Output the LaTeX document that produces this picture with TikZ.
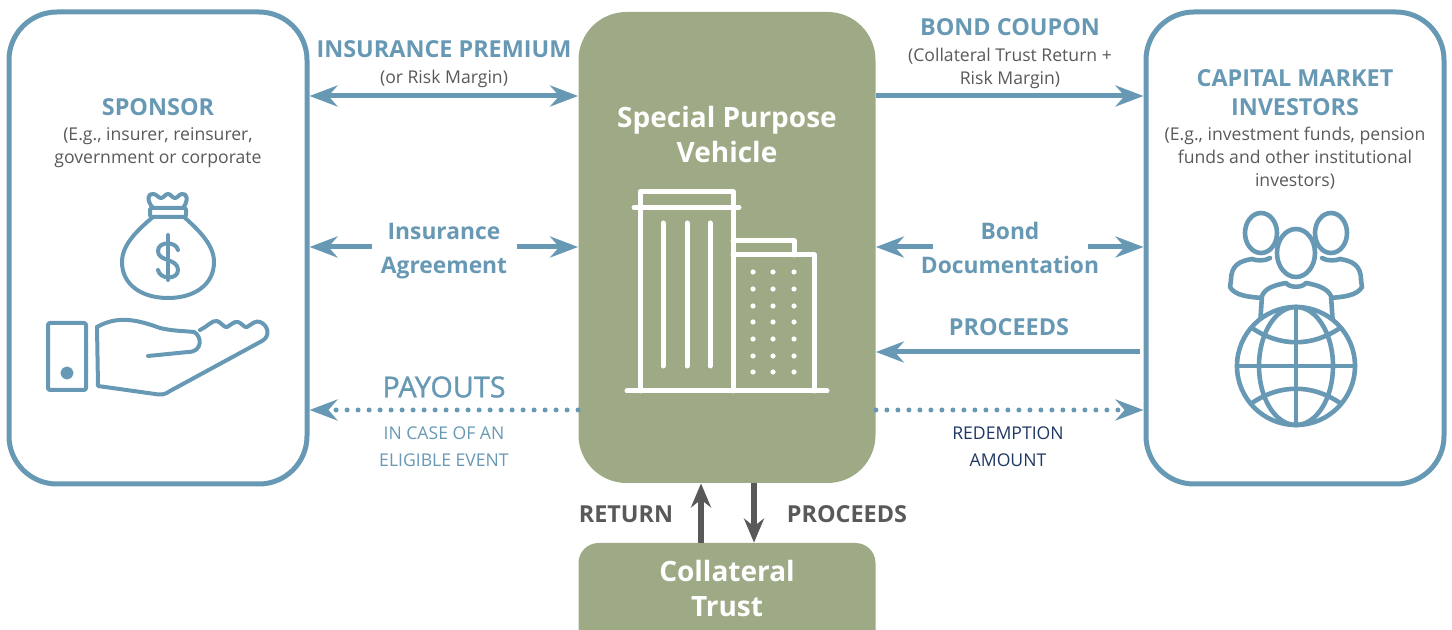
\documentclass[tikz,border=0pt]{standalone}
\usepackage{fontspec}
\setmainfont{Open Sans}
\newfontfamily\semifont[FakeBold=1.2]{Open Sans}
\usetikzlibrary{arrows.meta,positioning}

\definecolor{flowblue}{HTML}{6899B4}
\definecolor{spvgreen}{HTML}{9DAA85}
\definecolor{notegray}{HTML}{595959}
\definecolor{navytext}{HTML}{1F3864}

\tikzset{
  sidebox/.style={draw=flowblue,line width=2.5pt,rounded corners=24pt,minimum width=149pt,minimum height=236pt,inner sep=0pt},
  spvbox/.style={fill=spvgreen,rounded corners=24pt,minimum width=148.5pt,minimum height=235.5pt,inner sep=0pt},
  flow/.style={color=flowblue,line width=2.5pt,-{Stealth[length=14pt,width=10.5pt]}},
  flowboth/.style={flow,{Stealth[length=14pt,width=10.5pt]}-{Stealth[length=14pt,width=10.5pt]}},
  dotflow/.style={flow,line cap=round,dash pattern=on 0pt off 5.5pt},
  darkflow/.style={color=notegray,line width=3pt,-{Stealth[length=12pt,width=10pt]}},
  bluehead/.style={color=flowblue,font=\fontsize{11.7}{14.5}\selectfont\bfseries,align=center,inner sep=0pt},
  blueterm/.style={color=flowblue,font=\fontsize{11.4}{17}\selectfont\bfseries,align=center,inner sep=0pt},
  graynote/.style={color=notegray,font=\fontsize{8.8}{11.5}\selectfont,align=center,inner sep=0pt},
  capsnote/.style={font=\fontsize{8.8}{13.5}\selectfont,align=center,inner sep=0pt},
  whitehead/.style={color=white,font=\fontsize{14}{17.5}\selectfont\bfseries,align=center,inner sep=0pt},
  darkhead/.style={color=notegray,font=\fontsize{11.7}{14}\selectfont\bfseries,inner sep=0pt},
  icon/.style={color=flowblue,line width=2pt,line cap=round,line join=round},
  peopleicon/.style={icon,line width=2.3pt},
  whiteicon/.style={color=white,line width=2.5pt,line cap=round,line join=round}
}

\begin{document}
\begin{tikzpicture}[x=0.5pt,y=-0.5pt]
  \useasboundingbox (0,0) rectangle (1452,630);
  \clip (0,0) rectangle (1452,630);

  % boxes
  \node [sidebox] (sponsor) at (158,248) {};
  \node [sidebox] (investors) at (1295,248) {};
  \node [spvbox] (spv) at (727,247.5) {};
  \node [spvbox,rounded corners=10pt,minimum height=60pt] (trust) at (727,603) {};

  % labels
  \node [bluehead] (sponsorname) at (158,107) {SPONSOR};
  \node [graynote] (sponsornote) at (158,148) {(E.g., insurer, reinsurer,\\government or corporate};
  \node [bluehead] (investorname) at (1295,93) {CAPITAL MARKET\\INVESTORS};
  \node [graynote] (investornote) at (1295,158) {(E.g., investment funds, pension\\funds and other institutional\\investors)};
  \node [whitehead] (spvname) at (727,135) {Special Purpose\\Vehicle};
  \node [whitehead] (trustname) at (727,589) {Collateral\\Trust};

  \node [bluehead] (premium) at (444,49) {INSURANCE PREMIUM};
  \node [graynote] (premiumnote) at (444,79) {(or Risk Margin)};
  \node [bluehead] (coupon) at (1010,27) {BOND COUPON};
  \node [graynote] (couponnote) at (1010,68) {(Collateral Trust Return +\\Risk Margin)};
  \node [blueterm,inner xsep=4.5pt] (agreement) at (444,251) {Insurance\\Agreement};
  \node [blueterm] (bonddoc) at (1010,248) {Bond\\Documentation};
  \node [bluehead] (proceedsin) at (1009,327) {PROCEEDS};
  \node [bluehead,font=\fontsize{14.4}{16}\selectfont\semifont] (payouts) at (444,387) {PAYOUTS};
  \node [capsnote,color=flowblue] (payoutsnote) at (444,447) {IN CASE OF AN\\ELIGIBLE EVENT};
  \node [capsnote,color=navytext] (redemption) at (1008,447) {REDEMPTION\\AMOUNT};
  \node [darkhead] (returnlbl) at (626,514) {RETURN};
  \node [darkhead] (proceedsout) at (847,514) {PROCEEDS};

  % connectors
  \coordinate (rowa) at (0,96);
  \coordinate (rowb) at (0,247);
  \coordinate (rowc) at (0,352);
  \coordinate (rowd) at (0,410);
  \coordinate (bondleft) at (933,247);
  \coordinate (bondright) at (1088,247);
  \coordinate (returnx) at (701,0);
  \coordinate (proceedsx) at (754,0);

  \draw [flowboth] (sponsor.east |- rowa) -- (spv.west |- rowa);
  \draw [flow] (spv.east |- rowa) -- (investors.west |- rowa);
  \draw [flow] (agreement.west |- rowb) -- (sponsor.east |- rowb);
  \draw [flow] (agreement.east |- rowb) -- (spv.west |- rowb);
  \draw [flow] (bondleft) -- (spv.east |- rowb);
  \draw [flow] (bondright) -- (investors.west |- rowb);
  \draw [flow,shorten <=2pt] (investors.west |- rowc) -- (spv.east |- rowc);
  \draw [dotflow] (spv.west |- rowd) -- (sponsor.east |- rowd);
  \draw [dotflow] (spv.east |- rowd) -- (investors.west |- rowd);
  \draw [darkflow] (trust.north -| returnx) -- (spv.south -| returnx);
  \draw [darkflow] (spv.south -| proceedsx) -- (trust.north -| proceedsx);

  % money bag and hand
  \draw [icon,fill=flowblue] (67,373) circle (4.5);
  \draw [icon,rounded corners=1pt] (48,323) rectangle (86,390);
  \draw [icon,rounded corners=1pt] (150,208) rectangle (186,217);
  \draw [icon] (153,208) .. controls (146,200) and (148,193) .. (153,194)
     .. controls (157,194) and (158,198) .. (161,198)
     .. controls (164,198) and (165,194) .. (168,194)
     .. controls (171,194) and (172,198) .. (175,198)
     .. controls (178,198) and (179,194) .. (182,194)
     .. controls (187,193) and (189,200) .. (183,208);
  \draw [icon] (153,217) .. controls (135,232) and (122,246) .. (122,262)
     .. controls (122,285) and (142,298) .. (168,298)
     .. controls (194,298) and (214,285) .. (214,262)
     .. controls (214,246) and (201,232) .. (184,217);
  \draw [icon] (178,250) .. controls (176,241) and (158,241) .. (158,251)
     .. controls (158,262) and (178,258) .. (178,270)
     .. controls (178,280) and (160,280) .. (158,270);
  \draw [icon] (168,235) -- (168,280);
  \draw [icon] (97,327) .. controls (118,315) and (138,320) .. (160,328)
     .. controls (172,331) and (185,331) .. (194,332)
     .. controls (202,336) and (203,352) .. (188,352)
     -- (148,356);
  \draw [icon] (200,330) .. controls (207,327) and (212,320) .. (217,321)
     .. controls (221,322) and (224,328) .. (227,327)
     .. controls (231,325) and (234,321) .. (238,322)
     .. controls (242,323) and (244,328) .. (247,327)
     .. controls (252,324) and (256,320) .. (260,322)
     .. controls (268,325) and (271,336) .. (262,341)
     -- (170,391) .. controls (165,395) and (160,395) .. (155,394)
     -- (98,386) -- (97,327);

  % building
  \draw [whiteicon] (627,391) -- (827,391);
  \draw [whiteicon] (634,207.5) -- (739,207.5);
  \draw [whiteicon] (640,391) -- (640,192) -- (733,192) -- (733,391);
  \foreach \stripex in {663,687,710}
    \draw [whiteicon] (\stripex,223) -- (\stripex,366);
  \draw [whiteicon] (733,241) -- (794,241) -- (794,255);
  \draw [whiteicon] (733,255) -- (814,255) -- (814,391);
  \foreach \dotx in {753,773,794}
    \foreach \doty in {272,289,306,322,339,356,372}
      \fill [white] (\dotx,\doty) circle (2.6);

  % people and globe
  \draw [peopleicon,fill=white] (1261,233) ellipse (16 and 20);
  \draw [peopleicon,fill=white] (1331,233) ellipse (16 and 20);
  \draw [peopleicon] (1252,259) .. controls (1240,261) and (1231,265) .. (1231,280)
     -- (1230,287) .. controls (1235,296) and (1250,297) .. (1262,298);
  \draw [peopleicon] (1340,259) .. controls (1352,261) and (1361,265) .. (1361,280)
     -- (1362,287) .. controls (1357,296) and (1342,297) .. (1330,298);
  \draw [peopleicon] (1252,259) .. controls (1256,261) and (1266,261) .. (1270,258);
  \draw [peopleicon] (1340,259) .. controls (1336,261) and (1326,261) .. (1322,258);
  \draw [peopleicon,fill=white] (1260,325) -- (1262,296) .. controls (1265,288) and (1275,285) .. (1286,283)
     .. controls (1290,288) and (1302,288) .. (1306,283)
     .. controls (1317,285) and (1327,288) .. (1331,296) -- (1333,325);
  \draw [peopleicon,fill=white] (1296,253) ellipse (19 and 24);
  \draw [peopleicon,fill=white] (1296,366) circle (59);
  \draw [peopleicon] (1296,366) ellipse (37 and 59);
  \draw [peopleicon] (1296,307) -- (1296,425);
  \draw [peopleicon] (1237,366) -- (1355,366);
  \draw [peopleicon] (1252,328) .. controls (1280,347) and (1312,347) .. (1340,328);
  \draw [peopleicon] (1252,403) .. controls (1280,384) and (1312,384) .. (1340,403);
\end{tikzpicture}
\end{document}
